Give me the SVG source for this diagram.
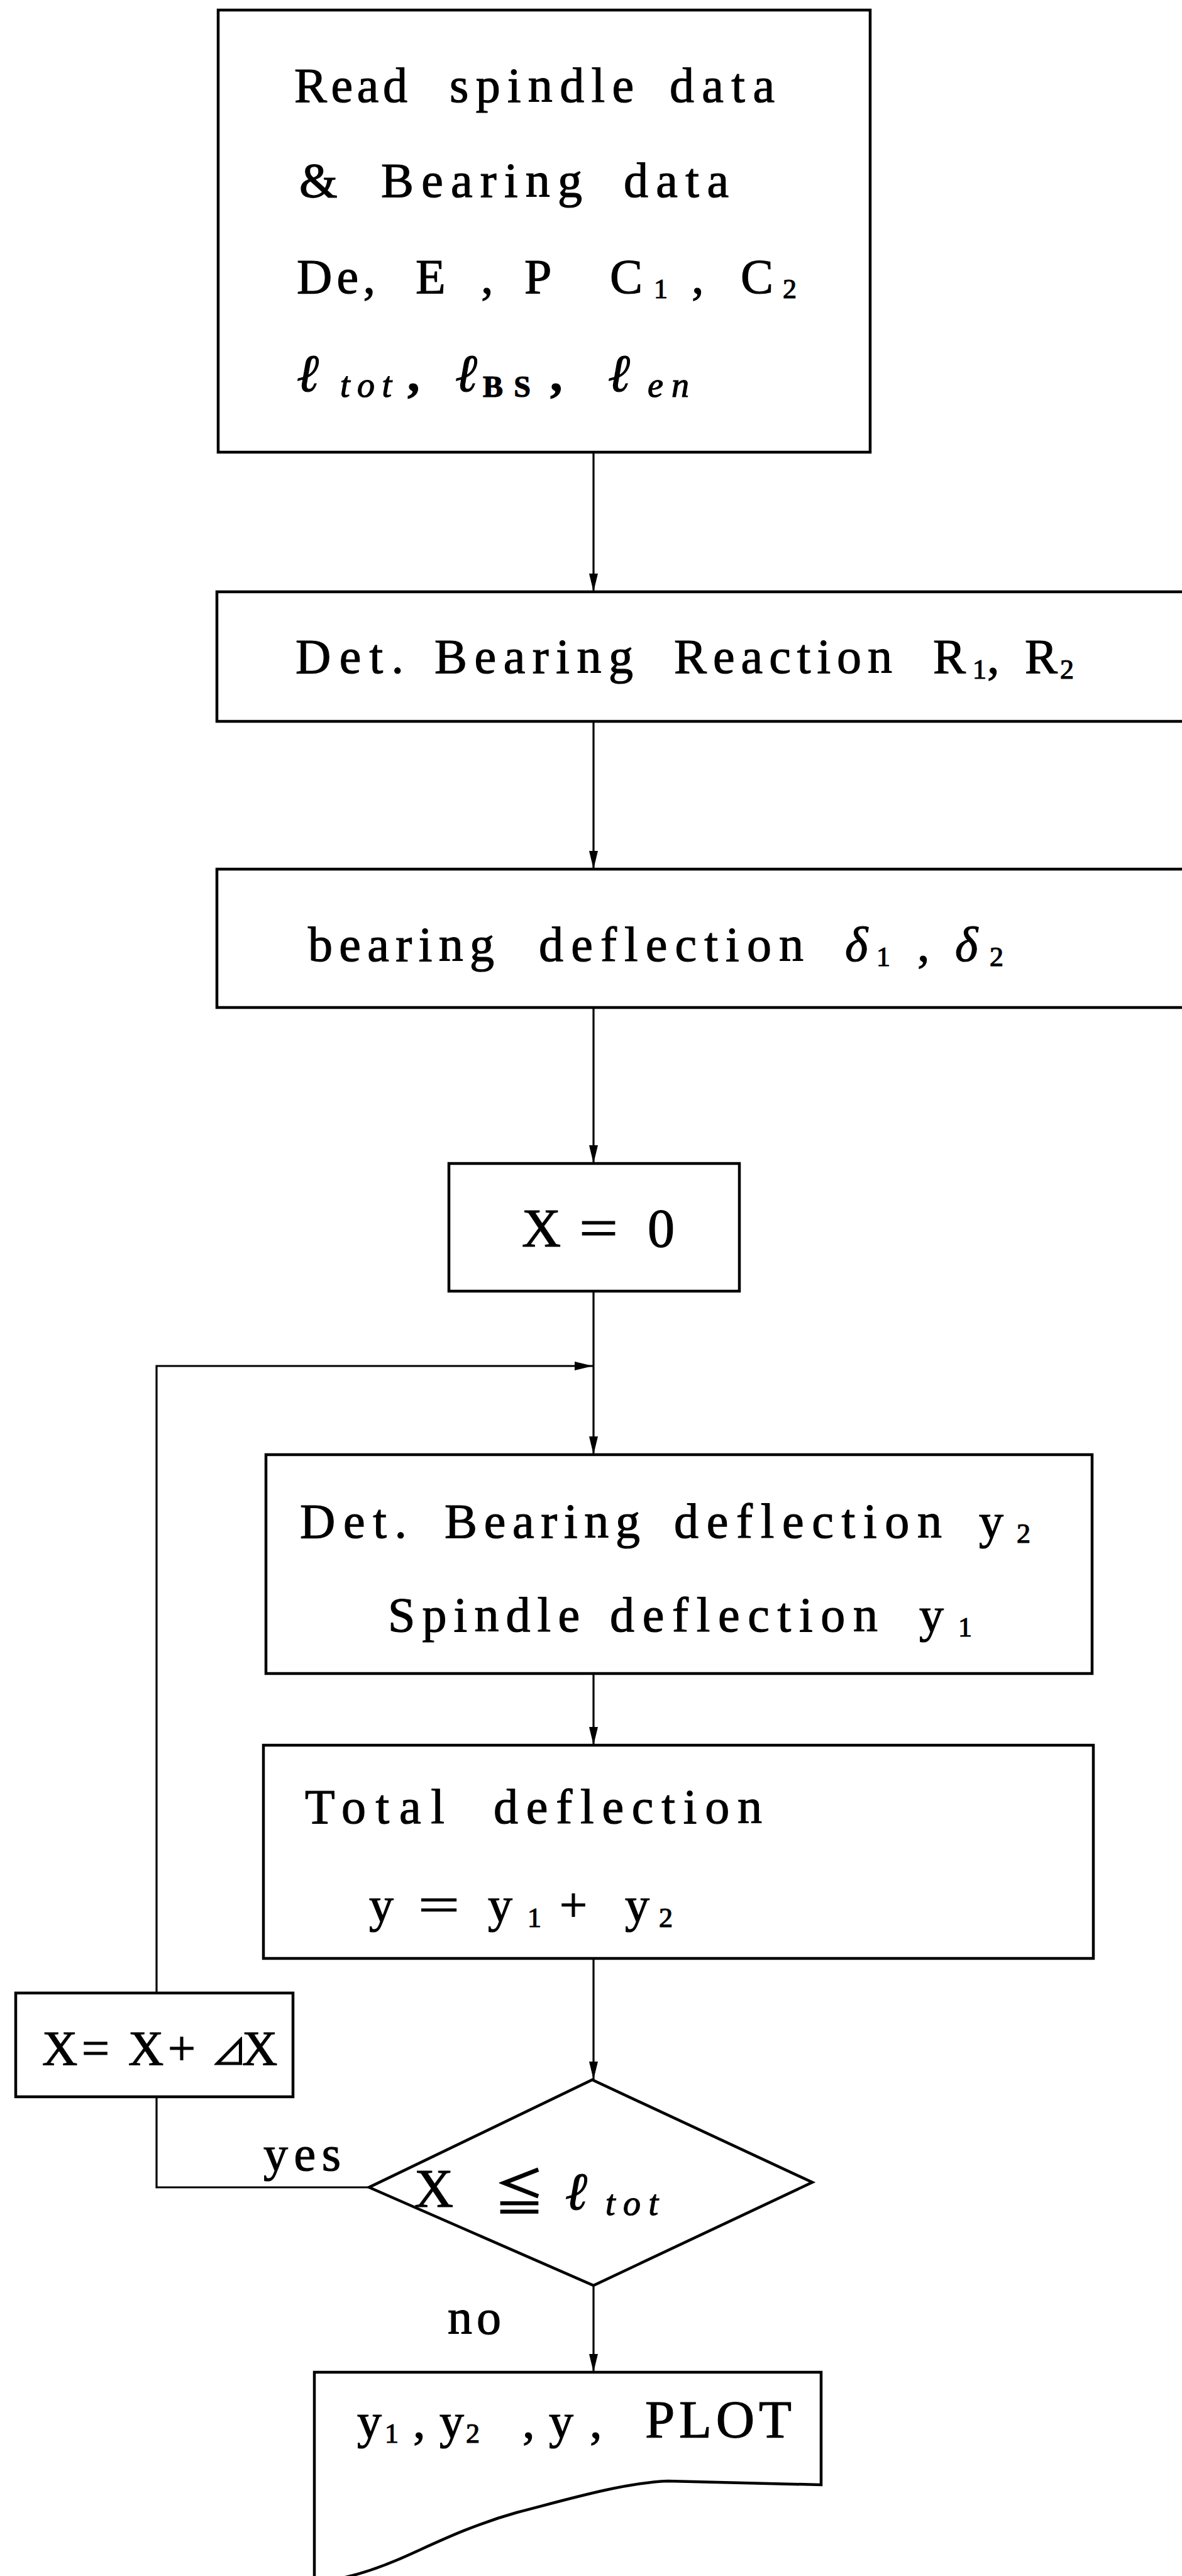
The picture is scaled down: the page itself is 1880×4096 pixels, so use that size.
<svg xmlns="http://www.w3.org/2000/svg" width="1880" height="4096" viewBox="0 0 1880 4096">
  <defs>
    <marker id="arrow" markerUnits="userSpaceOnUse" markerWidth="30" markerHeight="16" refX="29" refY="8" orient="auto">
      <path d="M0,1 L29,8 L0,15 Z" fill="#000"/>
    </marker>
    <style>
      .box { fill: #fff; stroke: #000; stroke-width: 4.5; }
      .edge { fill: none; stroke: #000; stroke-width: 3.2; }
      text { font-family: "Liberation Serif", "DejaVu Serif", "Noto Sans CJK JP", serif; font-size: 78px; fill: #000; stroke: #000; stroke-width: 1.2; }
      .sub { font-size: 44px; }
      .lsub { font-size: 56px; }
      .it { font-style: italic; }
      .bd { font-weight: bold; }
      .big { font-size: 86px; }
    </style>
  </defs>
  <rect width="1880" height="4096" fill="#fff"/>

  <!-- connectors -->
  <g id="connectors">
    <path class="edge" d="M944 719 V941" marker-end="url(#arrow)"/>
    <path class="edge" d="M944 1147 V1382" marker-end="url(#arrow)"/>
    <path class="edge" d="M944 1602 V1850" marker-end="url(#arrow)"/>
    <path class="edge" d="M944 2053 V2313" marker-end="url(#arrow)"/>
    <path class="edge" d="M944 2661 V2775" marker-end="url(#arrow)"/>
    <path class="edge" d="M944 3114 V3307" marker-end="url(#arrow)"/>
    <path class="edge" d="M944 3634 V3772" marker-end="url(#arrow)"/>
    <path class="edge" d="M587 3478 H249 V3334"/>
    <path class="edge" d="M249 3169 V2172 H943" marker-end="url(#arrow)"/>
    <text x="419" y="3451" font-size="80" textLength="123" lengthAdjust="spacing">yes</text>
    <text x="712" y="3711" font-size="85" textLength="85" lengthAdjust="spacing">no</text>
  </g>

  <!-- input data -->
  <g id="read-data">
    <rect class="box" x="347" y="16" width="1037" height="703"/>
    <text y="162"><tspan x="468" textLength="180" lengthAdjust="spacing">Read</tspan><tspan x="715" textLength="293" lengthAdjust="spacing">spindle</tspan><tspan x="1065" textLength="167" lengthAdjust="spacing">data</tspan></text>
    <text y="313"><tspan x="476">&amp;</tspan><tspan x="606" textLength="320" lengthAdjust="spacing">Bearing</tspan><tspan x="992" textLength="167" lengthAdjust="spacing">data</tspan></text>
    <text y="466"><tspan x="472" textLength="125" lengthAdjust="spacing">De,</tspan><tspan x="661">E</tspan><tspan x="765">,</tspan><tspan x="834">P</tspan><tspan x="970">C</tspan><tspan class="sub" x="1040" dy="8">1</tspan><tspan x="1100" dy="-8">,</tspan><tspan x="1178">C</tspan><tspan class="sub" x="1245" dy="8">2</tspan></text>
    <text y="622"><tspan class="it" x="472" font-size="84">ℓ</tspan><tspan class="it lsub" x="541" dy="9" textLength="82" lengthAdjust="spacing">tot</tspan><tspan class="bd" x="648" dy="-9">,</tspan><tspan class="it" x="724" font-size="84">ℓ</tspan><tspan class="bd" x="768" dy="9" font-size="48" textLength="76" lengthAdjust="spacing">BS</tspan><tspan class="bd" x="875" dy="-9">,</tspan><tspan class="it" x="967" font-size="84">ℓ</tspan><tspan class="it lsub" x="1030" dy="9" textLength="66" lengthAdjust="spacing">en</tspan></text>
  </g>

  <!-- bearing reaction -->
  <g id="bearing-reaction">
    <rect class="box" x="345" y="941" width="1545" height="206"/>
    <text y="1070"><tspan x="470" textLength="172" lengthAdjust="spacing">Det.</tspan><tspan x="691" textLength="316" lengthAdjust="spacing">Bearing</tspan><tspan x="1072" textLength="347" lengthAdjust="spacing">Reaction</tspan><tspan x="1484">R</tspan><tspan class="sub" x="1547" dy="9">1</tspan><tspan x="1570" dy="-9">,</tspan><tspan x="1630">R</tspan><tspan class="sub" x="1686" dy="9">2</tspan></text>
  </g>

  <!-- bearing deflection -->
  <g id="bearing-deflection">
    <rect class="box" x="345" y="1382" width="1545" height="220"/>
    <text y="1528"><tspan x="490" textLength="296" lengthAdjust="spacing">bearing</tspan><tspan x="857" textLength="421" lengthAdjust="spacing">deflection</tspan><tspan class="it" x="1344">δ</tspan><tspan class="sub" x="1394" dy="8">1</tspan><tspan x="1459" dy="-8">,</tspan><tspan class="it" x="1519">δ</tspan><tspan class="sub" x="1574" dy="8">2</tspan></text>
  </g>

  <!-- initial position -->
  <g id="init-x">
    <rect class="box" x="714" y="1850" width="462" height="203"/>
    <text class="big" y="1982"><tspan x="830">X</tspan><tspan x="921" textLength="62" lengthAdjust="spacingAndGlyphs">=</tspan><tspan x="1030">0</tspan></text>
  </g>

  <!-- deflections at X -->
  <g id="det-deflection">
    <rect class="box" x="423" y="2313" width="1314" height="348"/>
    <text y="2445"><tspan x="477" textLength="170" lengthAdjust="spacing">Det.</tspan><tspan x="707" textLength="311" lengthAdjust="spacing">Bearing</tspan><tspan x="1072" textLength="426" lengthAdjust="spacing">deflection</tspan><tspan x="1557">y</tspan><tspan class="sub" x="1617" dy="8">2</tspan></text>
    <text y="2594"><tspan x="617" textLength="305" lengthAdjust="spacing">Spindle</tspan><tspan x="970" textLength="426" lengthAdjust="spacing">deflection</tspan><tspan x="1462">y</tspan><tspan class="sub" x="1524" dy="8">1</tspan></text>
  </g>

  <!-- total deflection -->
  <g id="total-deflection">
    <rect class="box" x="419" y="2775" width="1320" height="339"/>
    <text y="2899"><tspan x="485" textLength="222" lengthAdjust="spacing">Total</tspan><tspan x="785" textLength="427" lengthAdjust="spacing">deflection</tspan></text>
    <text y="3055"><tspan x="587">y</tspan><tspan x="665" textLength="66" lengthAdjust="spacingAndGlyphs">=</tspan><tspan x="776">y</tspan><tspan class="sub" x="839" dy="9">1</tspan><tspan x="890" dy="-9">+</tspan><tspan x="994">y</tspan><tspan class="sub" x="1048" dy="9">2</tspan></text>
  </g>

  <!-- increment -->
  <g id="increment">
    <rect class="box" x="25" y="3169" width="441" height="165"/>
    <text y="3283" font-size="84"><tspan x="67">X</tspan><tspan x="130">=</tspan><tspan x="204">X</tspan><tspan x="267">+</tspan><tspan x="336" font-size="56">⊿</tspan><tspan x="385">X</tspan></text>
  </g>

  <!-- loop condition -->
  <g id="condition">
    <polygon class="box" points="942,3307 1292,3470 944,3634 587,3478"/>
    <text y="3509"><tspan class="big" x="659">X</tspan><tspan x="786" dy="6" font-size="80">≦</tspan><tspan class="it" x="899" dy="-2" font-size="84">ℓ</tspan><tspan class="it lsub" x="963" dy="9" textLength="84" lengthAdjust="spacing">tot</tspan></text>
  </g>

  <!-- output -->
  <g id="output">
    <path d="M500 4100 V3772 H1306 V3951 L1062 3945 C990 3948 900 3975 822 3995 C740 4018 680 4050 633 4070 C600 4084 570 4094 540 4100" fill="#fff" stroke="#000" stroke-width="4.5"/>
    <text y="3876" font-size="82"><tspan x="568">y</tspan><tspan class="sub" x="612" dy="8">1</tspan><tspan x="657" dy="-8">,</tspan><tspan x="699">y</tspan><tspan class="sub" x="741" dy="8">2</tspan><tspan x="831" dy="-8">,</tspan><tspan x="873">y</tspan><tspan x="938">,</tspan><tspan x="1026" font-size="85" textLength="233" lengthAdjust="spacing">PLOT</tspan></text>
  </g>
</svg>
